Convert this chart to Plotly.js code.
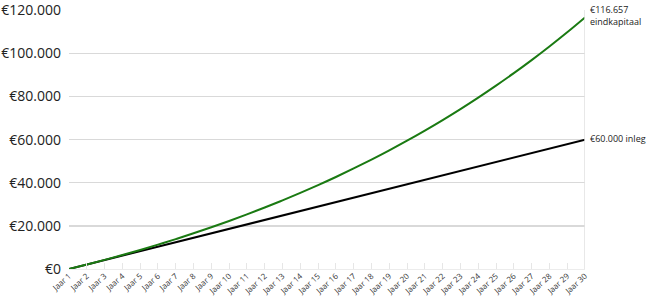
<!DOCTYPE html>
<html><head><meta charset="utf-8">
<script src="https://cdn.plot.ly/plotly-3.0.1.min.js"></script>
<style>html,body{margin:0;padding:0;background:#fff}#c{width:654px;height:307px}</style>
</head><body><div id="c"></div>
<script>
const years = ["Jaar 1","Jaar 2","Jaar 3","Jaar 4","Jaar 5","Jaar 6","Jaar 7","Jaar 8","Jaar 9","Jaar 10","Jaar 11","Jaar 12","Jaar 13","Jaar 14","Jaar 15","Jaar 16","Jaar 17","Jaar 18","Jaar 19","Jaar 20","Jaar 21","Jaar 22","Jaar 23","Jaar 24","Jaar 25","Jaar 26","Jaar 27","Jaar 28","Jaar 29","Jaar 30"];
const eindkapitaal = [0,2072,4235,6492,8848,11308,13875,16554,19351,22270,25318,28498,31818,35283,38900,42676,46616,50729,55023,59504,64182,69064,74161,79480,85032,90827,96876,103192,109782,116657];
const inleg = [0,2069,4138,6207,8276,10345,12414,14483,16552,18621,20690,22759,24828,26897,28966,31034,33103,35172,37241,39310,41379,43448,45517,47586,49655,51724,53793,55862,57931,60000];
const yTickVals = [0,20000,40000,60000,80000,100000,120000];
const yTickText = ["€0","€20.000","€40.000","€60.000","€80.000","€100.000","€120.000"];
const endLabels = ["€116.657<br>eindkapitaal","€60.000 inleg"];

const traces = [
  {x: years, y: inleg, type:'scatter', mode:'lines', line:{color:'#000000', width:2}, hoverinfo:'skip', cliponaxis:false},
  {x: years, y: eindkapitaal, type:'scatter', mode:'lines', line:{color:'#1a7a12', width:2, shape:'spline'}, hoverinfo:'skip', cliponaxis:false}
];
const layout = {
  width:654, height:307,
  margin:{l:69, r:69, t:10, b:38},
  showlegend:false,
  paper_bgcolor:'#fff', plot_bgcolor:'#fff',
  font:{family:'"Open Sans", "DejaVu Sans", sans-serif', color:'#222'},
  xaxis:{type:'category', range:[0,29], tickangle:-42, tickfont:{size:8, color:'#333'},
    showgrid:false, showline:false, zeroline:false, ticks:'inside', ticklen:6, tickcolor:'#e6e6e6', mirror:false},
  yaxis:{range:[0,120100], tickvals:yTickVals, ticktext:yTickText, tickfont:{size:14, color:'#222'},
    showgrid:true, gridcolor:'#d9d9d9', gridwidth:1.5, zeroline:true, zerolinecolor:'#ececec', zerolinewidth:1, showline:false, ticks:'', ticklabelstandoff:7},
  shapes:[{type:'line', xref:'x', yref:'paper', x0:29, x1:29, y0:0, y1:1, line:{color:'#e0e0e0', width:1.5}}],
  annotations:[
    {x: years[29], y: eindkapitaal[29], text:endLabels[0], xref:'x', yref:'y', xanchor:'left', yanchor:'middle', xshift:3, yshift:2, showarrow:false, align:'left', font:{size:9, color:'#222'}},
    {x: years[29], y: inleg[29], text:endLabels[1], xref:'x', yref:'y', xanchor:'left', yanchor:'middle', xshift:3, yshift:1, showarrow:false, align:'left', font:{size:9, color:'#222'}}
  ]
};
Plotly.newPlot('c', traces, layout, {staticPlot:true, displayModeBar:false});
</script></body></html>
